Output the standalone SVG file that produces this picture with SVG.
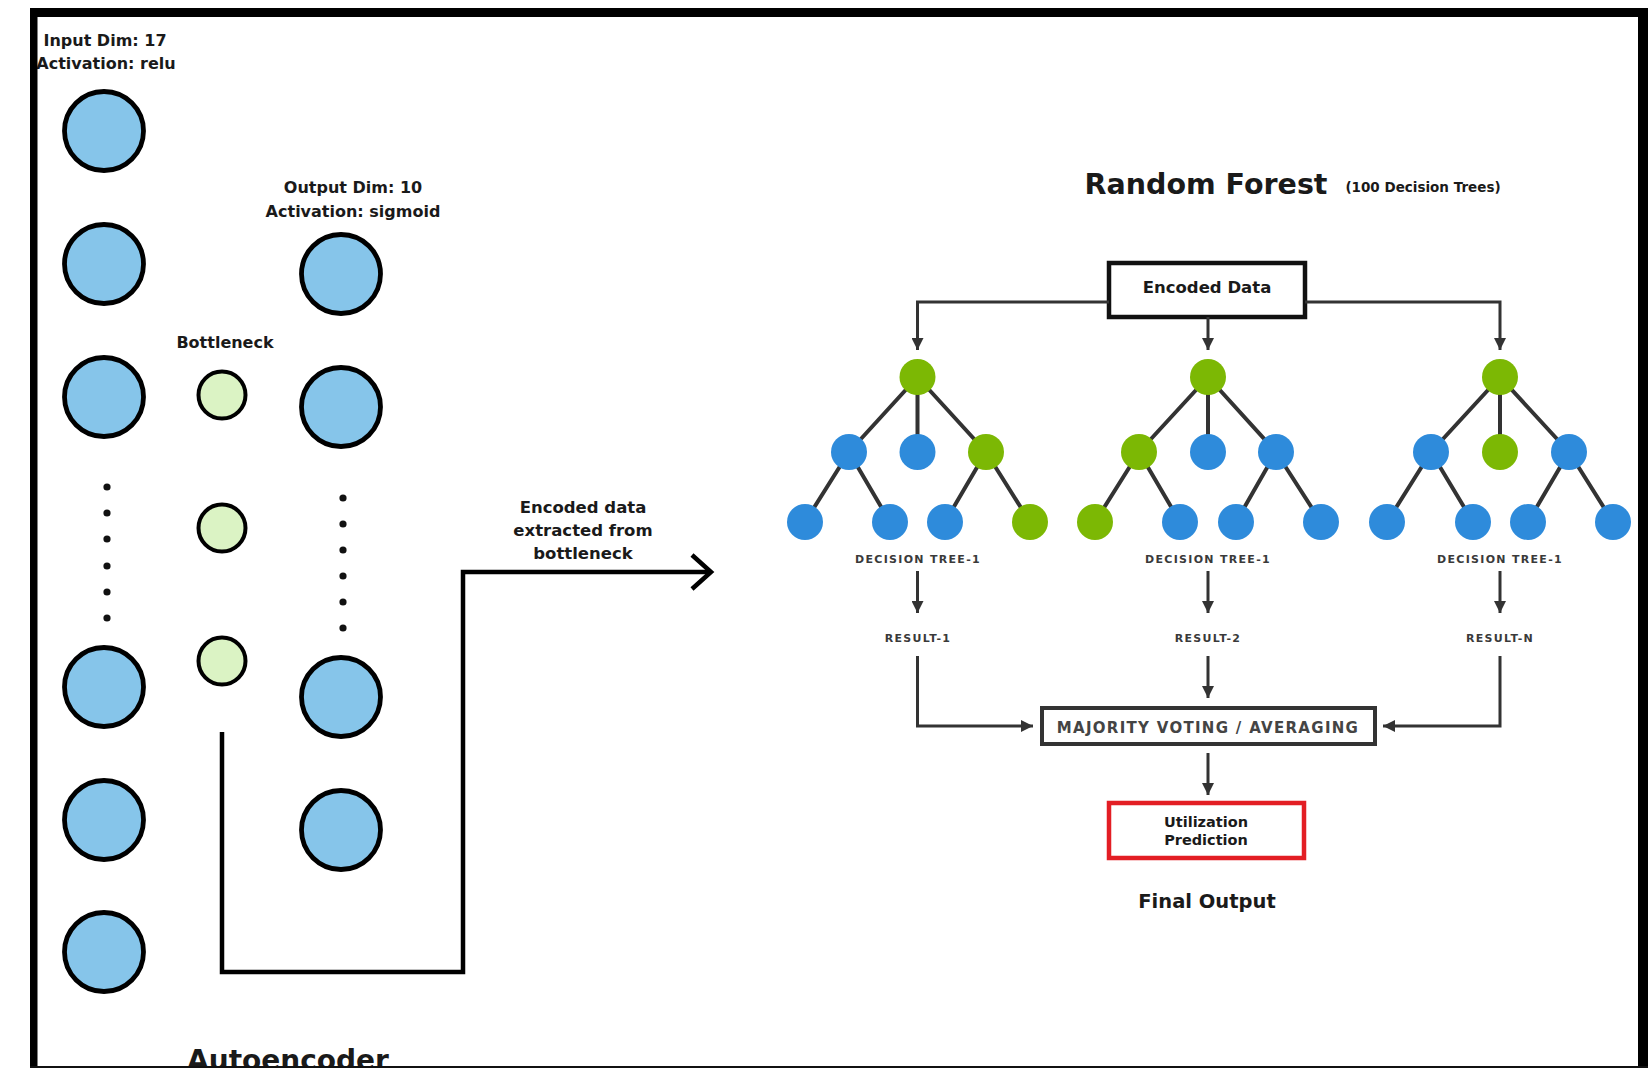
<svg xmlns="http://www.w3.org/2000/svg" width="1648" height="1068" viewBox="0 0 1648 1068">
<defs>
<style>
.nin{fill:#86C5EA;stroke:#000;stroke-width:4.8}
.nbn{fill:#DBF3C4;stroke:#000;stroke-width:4}
.dot{fill:#111}
.t{font-family:"DejaVu Sans","Liberation Sans",sans-serif;font-weight:bold;fill:#1a1a1a;text-anchor:middle}
.lbl{font-family:"DejaVu Sans","Liberation Sans",sans-serif;font-weight:bold;fill:#3a3a3a;text-anchor:middle;font-size:11px;letter-spacing:1.3px}
.g{fill:#7CB804}
.b{fill:#2E8BDB}
.edge{stroke:#333;stroke-width:4;fill:none}
.conn{stroke:#333;stroke-width:3;fill:none}
.ae{stroke:#000;stroke-width:4.5;fill:none}
</style>
<marker id="ah" viewBox="0 0 12 12" refX="12" refY="6" markerWidth="12" markerHeight="12" markerUnits="userSpaceOnUse" orient="auto">
<path d="M0,0 L12,6 L0,12 z" fill="#333"/>
</marker>
</defs>
<rect x="0" y="0" width="1648" height="1068" fill="#fff"/>

<!-- Autoencoder texts -->
<text class="t" x="105" y="46" font-size="16">Input Dim: 17</text>
<text class="t" x="106" y="69" font-size="16">Activation: relu</text>
<text class="t" x="353" y="193" font-size="16">Output Dim: 10</text>
<text class="t" x="353" y="217" font-size="16">Activation: sigmoid</text>
<text class="t" x="225" y="348" font-size="16">Bottleneck</text>

<!-- Input layer -->
<g id="input-layer">
<circle class="nin" cx="104" cy="131" r="39.5"/>
<circle class="nin" cx="104" cy="264" r="39.5"/>
<circle class="nin" cx="104" cy="397" r="39.5"/>
<circle class="nin" cx="104" cy="687" r="39.5"/>
<circle class="nin" cx="104" cy="820" r="39.5"/>
<circle class="nin" cx="104" cy="952" r="39.5"/>
<circle class="dot" cx="107" cy="487" r="3.6"/>
<circle class="dot" cx="107" cy="513" r="3.6"/>
<circle class="dot" cx="107" cy="539" r="3.6"/>
<circle class="dot" cx="107" cy="566" r="3.6"/>
<circle class="dot" cx="107" cy="592" r="3.6"/>
<circle class="dot" cx="107" cy="618" r="3.6"/>
</g>

<g id="bottleneck">
<circle class="nbn" cx="222" cy="395" r="23.5"/>
<circle class="nbn" cx="222" cy="528" r="23.5"/>
<circle class="nbn" cx="222" cy="661" r="23.5"/>
</g>

<g id="output-layer">
<circle class="nin" cx="341" cy="274" r="39.5"/>
<circle class="nin" cx="341" cy="407" r="39.5"/>
<circle class="nin" cx="341" cy="697" r="39.5"/>
<circle class="nin" cx="341" cy="830" r="39.5"/>
<circle class="dot" cx="343" cy="498" r="3.6"/>
<circle class="dot" cx="343" cy="524" r="3.6"/>
<circle class="dot" cx="343" cy="550" r="3.6"/>
<circle class="dot" cx="343" cy="576" r="3.6"/>
<circle class="dot" cx="343" cy="602" r="3.6"/>
<circle class="dot" cx="343" cy="628" r="3.6"/>
</g>

<text class="t" x="288" y="1070" font-size="28">Autoencoder</text>

<!-- Bottleneck extraction connector -->
<g id="extract-connector">
<path class="ae" d="M222,732 V972 H463 V572 H711"/>
<path class="ae" d="M692,555 L711,572 L692,589"/>
</g>
<g id="extract-label">
<text class="t" x="583" y="513" font-size="16.5">Encoded data</text>
<text class="t" x="583" y="536" font-size="16.5">extracted from</text>
<text class="t" x="583" y="559" font-size="16.5">bottleneck</text>
</g>

<!-- Random Forest -->
<text class="t" x="1206" y="194" font-size="28.5">Random Forest</text>
<text class="t" x="1423" y="192" font-size="13.5">(100 Decision Trees)</text>

<g id="encoded-data">
<rect x="1109" y="263" width="196" height="54" fill="#fff" stroke="#111" stroke-width="4.5"/>
<text class="t" x="1207" y="293" font-size="16.5">Encoded Data</text>
</g>

<g id="connectors">
<path class="conn" d="M1109,302 H917.5 V350" marker-end="url(#ah)"/>
<path class="conn" d="M1208,317 V350" marker-end="url(#ah)"/>
<path class="conn" d="M1305,302 H1500 V350" marker-end="url(#ah)"/>
<path class="conn" d="M917.5,571 V613" marker-end="url(#ah)"/>
<path class="conn" d="M1208,571 V613" marker-end="url(#ah)"/>
<path class="conn" d="M1500,571 V613" marker-end="url(#ah)"/>
<path class="conn" d="M917.5,656 V726 H1033" marker-end="url(#ah)"/>
<path class="conn" d="M1208,656 V698" marker-end="url(#ah)"/>
<path class="conn" d="M1500,656 V726 H1383" marker-end="url(#ah)"/>
<path class="conn" d="M1208,753 V795" marker-end="url(#ah)"/>
</g>

<!-- Tree 1 -->
<g id="tree-1">
<path class="edge" d="M917.5,377 L849,452 M917.5,377 V452 M917.5,377 L986,452 M849,452 L805,522 M849,452 L890,522 M986,452 L945,522 M986,452 L1030,522"/>
<circle class="g" cx="917.5" cy="377" r="18"/>
<circle class="b" cx="849" cy="452" r="18"/>
<circle class="b" cx="917.5" cy="452" r="18"/>
<circle class="g" cx="986" cy="452" r="18"/>
<circle class="b" cx="805" cy="522" r="18"/>
<circle class="b" cx="890" cy="522" r="18"/>
<circle class="b" cx="945" cy="522" r="18"/>
<circle class="g" cx="1030" cy="522" r="18"/>
<text class="lbl" x="918" y="563">DECISION TREE-1</text>
<text class="lbl" x="918" y="642">RESULT-1</text>
</g>

<!-- Tree 2 -->
<g id="tree-2">
<path class="edge" d="M1208,377 L1139,452 M1208,377 V452 M1208,377 L1276,452 M1139,452 L1095,522 M1139,452 L1180,522 M1276,452 L1236,522 M1276,452 L1321,522"/>
<circle class="g" cx="1208" cy="377" r="18"/>
<circle class="g" cx="1139" cy="452" r="18"/>
<circle class="b" cx="1208" cy="452" r="18"/>
<circle class="b" cx="1276" cy="452" r="18"/>
<circle class="g" cx="1095" cy="522" r="18"/>
<circle class="b" cx="1180" cy="522" r="18"/>
<circle class="b" cx="1236" cy="522" r="18"/>
<circle class="b" cx="1321" cy="522" r="18"/>
<text class="lbl" x="1208" y="563">DECISION TREE-1</text>
<text class="lbl" x="1208" y="642">RESULT-2</text>
</g>

<!-- Tree 3 -->
<g id="tree-n">
<path class="edge" d="M1500,377 L1431,452 M1500,377 V452 M1500,377 L1569,452 M1431,452 L1387,522 M1431,452 L1473,522 M1569,452 L1528,522 M1569,452 L1613,522"/>
<circle class="g" cx="1500" cy="377" r="18"/>
<circle class="b" cx="1431" cy="452" r="18"/>
<circle class="g" cx="1500" cy="452" r="18"/>
<circle class="b" cx="1569" cy="452" r="18"/>
<circle class="b" cx="1387" cy="522" r="18"/>
<circle class="b" cx="1473" cy="522" r="18"/>
<circle class="b" cx="1528" cy="522" r="18"/>
<circle class="b" cx="1613" cy="522" r="18"/>
<text class="lbl" x="1500" y="563">DECISION TREE-1</text>
<text class="lbl" x="1500" y="642">RESULT-N</text>
</g>

<g id="majority">
<rect x="1042" y="708" width="333" height="36" fill="#fff" stroke="#333" stroke-width="4"/>
<text x="1208" y="733" font-family="DejaVu Sans, Liberation Sans, sans-serif" font-weight="bold" font-size="15" letter-spacing="1.3" fill="#444" text-anchor="middle">MAJORITY VOTING / AVERAGING</text>
</g>

<g id="prediction">
<rect x="1109" y="803" width="195" height="55" fill="#fff" stroke="#E31E24" stroke-width="4.5"/>
<text class="t" x="1206" y="827" font-size="14.5">Utilization</text>
<text class="t" x="1206" y="845" font-size="14.5">Prediction</text>
</g>
<text class="t" x="1207" y="908" font-size="19.5">Final Output</text>

<!-- Frame -->
<g id="frame">
<rect x="30" y="8" width="1618" height="9" fill="#000"/>
<rect x="30" y="8" width="7.5" height="1060" fill="#000"/>
<rect x="1638" y="8" width="10" height="1060" fill="#000"/>
<rect x="30" y="1066" width="1618" height="2" fill="#111"/>
</g>
</svg>
